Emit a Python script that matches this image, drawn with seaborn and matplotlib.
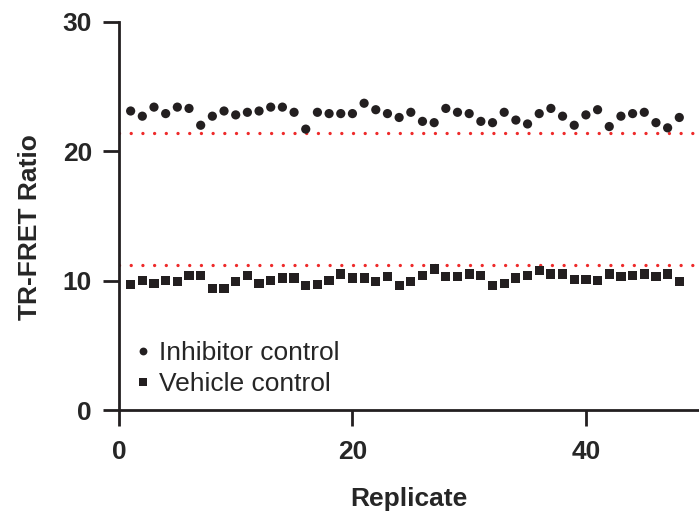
import matplotlib
matplotlib.use("Agg")
import matplotlib.pyplot as plt
import pandas as pd
import seaborn as sns

replicate = list(range(1, 49))

inhibitor = [
    23.1, 22.7, 23.4, 22.9, 23.4, 23.3, 22.0, 22.7, 23.1, 22.8,
    23.0, 23.1, 23.4, 23.4, 23.0, 21.7, 23.0, 22.9, 22.9, 22.9,
    23.7, 23.2, 22.9, 22.6, 23.0, 22.3, 22.2, 23.3, 23.0, 22.9,
    22.3, 22.2, 23.0, 22.4, 22.1, 22.9, 23.3, 22.7, 22.0, 22.8,
    23.2, 21.9, 22.7, 22.9, 23.0, 22.2, 21.8, 22.6,
]

vehicle = [
    9.7, 10.0, 9.8, 10.0, 9.9, 10.4, 10.4, 9.4, 9.4, 9.9,
    10.4, 9.8, 10.0, 10.2, 10.2, 9.6, 9.7, 10.0, 10.5, 10.2,
    10.2, 9.9, 10.3, 9.6, 9.9, 10.4, 10.9, 10.3, 10.3, 10.5,
    10.4, 9.6, 9.8, 10.2, 10.4, 10.8, 10.5, 10.5, 10.1, 10.1,
    10.0, 10.5, 10.3, 10.4, 10.5, 10.3, 10.5, 9.9,
]

thresholds = [21.4, 11.2]

df = pd.concat([
    pd.DataFrame({"Replicate": replicate, "Ratio": inhibitor, "Group": "Inhibitor control"}),
    pd.DataFrame({"Replicate": replicate, "Ratio": vehicle, "Group": "Vehicle control"}),
])

sns.set_style("ticks")
plt.rcParams["font.family"] = ["Liberation Sans", "DejaVu Sans"]

fig = plt.figure(figsize=(6.99, 5.14), dpi=100)
ax = fig.add_axes([0.1702, 0.2023, 0.83, 0.7555])

for t in thresholds:
    ax.axhline(t, color="#ee2a2a", lw=2.4, linestyle=(0, (0.01, 3.5)),
               dash_capstyle="round", zorder=1)

sns.scatterplot(
    data=df, x="Replicate", y="Ratio", hue="Group", style="Group",
    markers={"Inhibitor control": "o", "Vehicle control": "s"},
    palette={"Inhibitor control": "#231f20", "Vehicle control": "#231f20"},
    s=44, linewidth=0, ax=ax, zorder=3,
)

ax.set_xlim(0, 49.7)
ax.set_ylim(0, 30)
ax.set_xticks([0, 20, 40])
ax.set_yticks([0, 10, 20, 30])
ax.tick_params(direction="out", length=11.5, width=2, color="#231f20",
               labelsize=19, pad=8)
ax.tick_params(axis="x", pad=10)
for lab in ax.get_xticklabels() + ax.get_yticklabels():
    lab.set_fontweight("bold")
sns.despine(ax=ax)
for side in ["left", "bottom"]:
    ax.spines[side].set_linewidth(2)
    ax.spines[side].set_color("#231f20")

ax.set_xlabel("Replicate", fontsize=19, fontweight="bold", labelpad=17)
ax.set_ylabel("TR-FRET Ratio", fontsize=19, fontweight="bold")
ax.yaxis.set_label_coords(-0.132, 0.47)

leg = ax.legend(loc="lower left", bbox_to_anchor=(0.014, 0.036), frameon=False,
                fontsize=19, handletextpad=0.0, handlelength=1.2,
                labelspacing=0.25, borderpad=0, borderaxespad=0,
                markerscale=0.85)

fig.savefig("out.png", dpi=100)
